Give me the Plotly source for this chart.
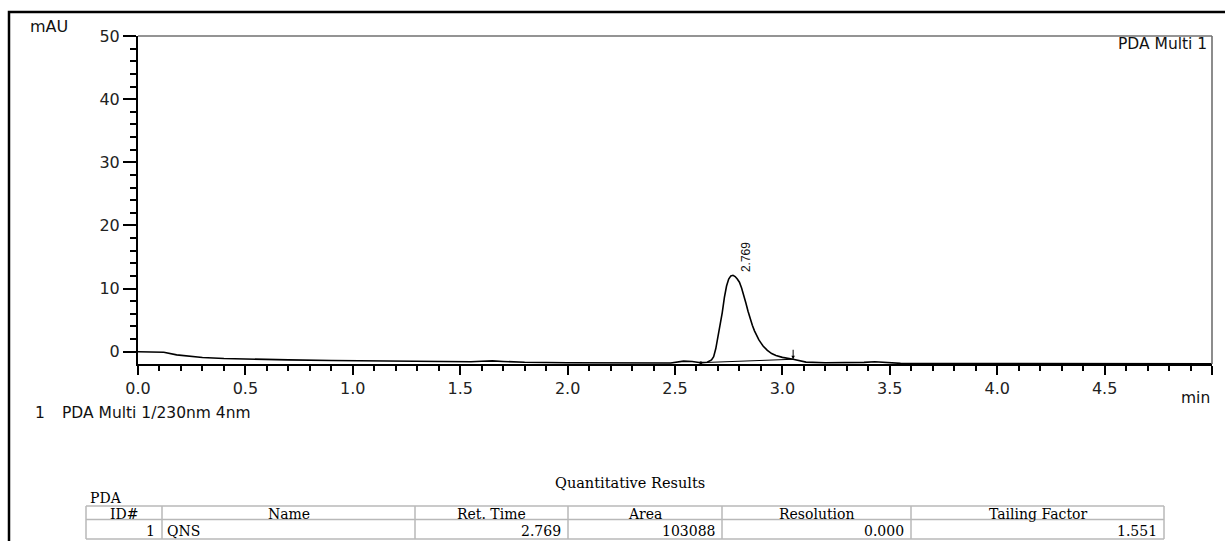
import plotly.graph_objects as go

# ---------------- data ----------------
time_min = [0.00, 0.08, 0.12, 0.18, 0.24, 0.30, 0.40, 0.50, 0.70, 0.90, 1.10, 1.30,
            1.55, 1.60, 1.65, 1.70, 1.80, 2.00, 2.30, 2.48, 2.54, 2.58, 2.62, 2.65,
            2.67, 2.68, 2.69, 2.70, 2.71, 2.72, 2.73, 2.74, 2.75, 2.76, 2.77, 2.78,
            2.79, 2.80, 2.81, 2.82, 2.83, 2.84, 2.85, 2.86, 2.87, 2.88, 2.89, 2.90,
            2.91, 2.93, 2.95, 2.97, 3.00, 3.05, 3.08, 3.11, 3.20, 3.30, 3.38, 3.43,
            3.48, 3.55, 3.70, 4.00, 4.50, 5.00]
absorbance_mau = [0.00, 0.00, -0.10, -0.50, -0.75, -0.92, -1.08, -1.18, -1.30, -1.40, -1.48, -1.55,
                  -1.60, -1.52, -1.45, -1.55, -1.68, -1.75, -1.80, -1.80, -1.50, -1.55, -1.74, -1.68,
                  -1.30, -0.80, 0.50, 2.20, 4.00, 6.20, 8.60, 10.40, 11.50, 12.00, 12.10, 11.90,
                  11.50, 11.00, 10.10, 9.00, 7.70, 6.40, 5.20, 4.20, 3.30, 2.50, 1.90, 1.40,
                  0.90, 0.20, -0.30, -0.60, -0.90, -1.20, -1.45, -1.65, -1.75, -1.78, -1.70, -1.60,
                  -1.72, -1.85, -1.88, -1.90, -1.92, -1.93]

baseline_time = [2.62, 3.05]
baseline_mau = [-1.74, -1.20]

peak_time = 2.769
peak_height = 12.10
peak_label = "2.769"
peak_end_time = 3.05
peak_end_mau = -1.20

x_tick_vals = [0.0, 0.5, 1.0, 1.5, 2.0, 2.5, 3.0, 3.5, 4.0, 4.5, 5.0]
x_tick_text = ["0.0", "0.5", "1.0", "1.5", "2.0", "2.5", "3.0", "3.5", "4.0", "4.5", ""]
y_tick_vals = [0, 10, 20, 30, 40, 50]

table_title = "Quantitative Results"
table_group = "PDA"
table_headers = ["ID#", "Name", "Ret. Time", "Area", "Resolution", "Tailing Factor"]
table_row = ["1", "QNS", "2.769", "103088", "0.000", "1.551"]
table_row_align = ["right", "left", "right", "right", "right", "right"]

# ---------------- layout helpers ----------------
W, H = 1225, 541
def px(x):
    return x / W
def py(y):
    return 1 - y / H

PLOT_L, PLOT_R, PLOT_T, PLOT_B = 138, 1212, 36, 364
SANS = "DejaVu Sans"
SERIF = "DejaVu Serif"

fig = go.Figure()
fig.add_trace(go.Scatter(x=time_min, y=absorbance_mau, mode="lines",
                         line=dict(color="black", width=1.6), hoverinfo="skip",
                         showlegend=False))
fig.add_trace(go.Scatter(x=baseline_time, y=baseline_mau, mode="lines",
                         line=dict(color="black", width=1.0), hoverinfo="skip",
                         showlegend=False))
fig.add_trace(go.Scatter(x=[baseline_time[0]], y=[baseline_mau[0]], mode="markers",
                         marker=dict(color="black", size=3), hoverinfo="skip",
                         showlegend=False))

shapes = []
# outer black frame
shapes.append(dict(type="rect", xref="paper", yref="paper",
                   x0=px(9), x1=px(1240), y0=py(560), y1=py(12),
                   line=dict(color="black", width=2.5), layer="below"))
# gray plot frame (top and right)
shapes.append(dict(type="line", xref="paper", yref="paper",
                   x0=px(PLOT_L), x1=px(PLOT_R), y0=py(PLOT_T), y1=py(PLOT_T),
                   line=dict(color="#707070", width=1.6)))
shapes.append(dict(type="line", xref="paper", yref="paper",
                   x0=px(PLOT_R), x1=px(PLOT_R), y0=py(PLOT_T), y1=py(PLOT_B),
                   line=dict(color="#707070", width=1.6)))

# table grid
col_edges = [86, 162, 415, 568, 722, 911, 1164]
row_edges = [506, 519.5, 539]
grid_col = "#b8b8b8"
for ry in row_edges:
    shapes.append(dict(type="line", xref="paper", yref="paper",
                       x0=px(col_edges[0]), x1=px(col_edges[-1]), y0=py(ry), y1=py(ry),
                       line=dict(color=grid_col, width=1.5)))
for cx in col_edges:
    shapes.append(dict(type="line", xref="paper", yref="paper",
                       x0=px(cx), x1=px(cx), y0=py(row_edges[0]), y1=py(row_edges[-1]),
                       line=dict(color=grid_col, width=1.5)))

annotations = []
def txt(text, x, y, size, family=SANS, xanchor="left", yanchor="middle", color="#111111"):
    annotations.append(dict(text=text, xref="paper", yref="paper", x=px(x), y=py(y),
                            xanchor=xanchor, yanchor=yanchor, showarrow=False,
                            font=dict(family=family, size=size, color=color)))

txt("mAU", 28, 27, 16)
txt("PDA Multi 1", 1209, 44, 15.5, xanchor="right")
txt("min", 1212, 398, 15.5, xanchor="right")
txt("1", 33, 413, 15.5)
txt("PDA Multi 1/230nm 4nm", 60, 413, 15.5)

# peak label (rotated) and peak end arrow
annotations.append(dict(text=peak_label, x=peak_time, y=peak_height, xref="x", yref="y",
                        textangle=-90, showarrow=False, xanchor="center", yanchor="middle",
                        xshift=14, yshift=18,
                        font=dict(family="Liberation Sans", size=12, color="#111111")))
annotations.append(dict(text="", x=peak_end_time, y=peak_end_mau, xref="x", yref="y",
                        showarrow=True, ax=0, ay=-11, arrowhead=2, arrowsize=0.7,
                        arrowwidth=1, arrowcolor="black"))

# table text
txt(table_title, 630, 483, 14.5, family=SERIF, xanchor="center", color="#000000")
txt(table_group, 88, 498, 14, family=SERIF, color="#000000")
for i, h in enumerate(table_headers):
    cx = (col_edges[i] + col_edges[i + 1]) / 2
    txt(h, cx, 513.5, 14, family=SERIF, xanchor="center", color="#000000")
for i, v in enumerate(table_row):
    if table_row_align[i] == "right":
        txt(v, col_edges[i + 1] - 5, 531, 14, family=SERIF, xanchor="right", color="#000000")
    else:
        txt(v, col_edges[i] + 3, 531, 14, family=SERIF, xanchor="left", color="#000000")

fig.update_layout(
    width=W, height=H,
    margin=dict(l=0, r=0, t=0, b=0, autoexpand=False),
    paper_bgcolor="white", plot_bgcolor="white",
    showlegend=False,
    shapes=shapes,
    annotations=annotations,
    xaxis=dict(domain=[px(PLOT_L), px(PLOT_R)], range=[0, 5.0],
               tickmode="array", tickvals=x_tick_vals, ticktext=x_tick_text,
               ticks="outside", ticklen=9, tickwidth=2, tickcolor="black",
               showline=True, linecolor="black", linewidth=2,
               showgrid=False, zeroline=False, automargin=False,
               tickfont=dict(family=SANS, size=16, color="#222222"),
               minor=dict(tickmode="linear", tick0=0, dtick=0.1, ticks="outside",
                          ticklen=5, tickwidth=2, tickcolor="black", showgrid=False)),
    yaxis=dict(domain=[py(PLOT_B), py(PLOT_T)], range=[-1.95, 50],
               tickmode="array", tickvals=y_tick_vals,
               ticks="outside", ticklen=13, tickwidth=1.5, tickcolor="black",
               showline=True, linecolor="black", linewidth=2,
               showgrid=False, zeroline=False, automargin=False,
               tickfont=dict(family=SANS, size=16, color="#222222"),
               minor=dict(tickmode="linear", tick0=0, dtick=2, ticks="outside",
                          ticklen=6, tickwidth=1.5, tickcolor="black", showgrid=False)),
)

fig.write_html("out.html")
